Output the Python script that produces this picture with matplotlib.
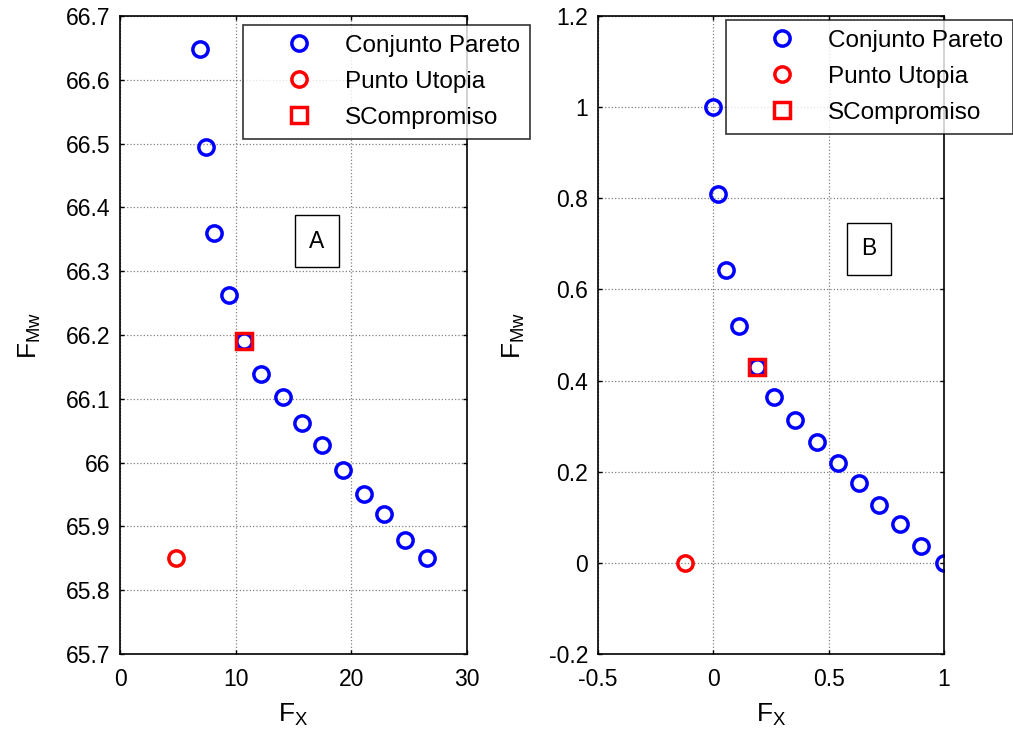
import numpy as np
import matplotlib
matplotlib.use("Agg")
import matplotlib.pyplot as plt
from matplotlib.ticker import FormatStrFormatter

plt.rcParams['font.family'] = ['Liberation Sans', 'DejaVu Sans']
plt.rcParams['axes.unicode_minus'] = False
plt.rcParams['mathtext.default'] = 'regular'

# panel A data
pareto_a_x = [6.9, 7.45, 8.15, 9.4, 10.7, 12.2, 14.05, 15.7, 17.5, 19.25, 21.1, 22.8, 24.6, 26.5]
pareto_a_y = [66.648, 66.495, 66.36, 66.263, 66.19, 66.139, 66.103, 66.062, 66.028, 65.989, 65.951, 65.919, 65.878, 65.851]
utopia_a = (4.85, 65.851)
comp_a = (10.7, 66.19)

# panel B data
pareto_b_x = [0.0, 0.02, 0.055, 0.11, 0.19, 0.265, 0.355, 0.45, 0.54, 0.63, 0.72, 0.81, 0.9, 1.0]
pareto_b_y = [1.0, 0.81, 0.642, 0.519, 0.43, 0.364, 0.314, 0.266, 0.22, 0.176, 0.127, 0.086, 0.037, 0.0]
utopia_b = (-0.125, 0.0)
comp_b = (0.19, 0.43)

labels = ['Conjunto Pareto', 'Punto Utopia', 'SCompromiso']

W, H = 1013, 734
fig = plt.figure(figsize=(W / 100, H / 100), dpi=100)
ax1 = fig.add_axes([120 / W, 80 / H, 347 / W, 638 / H])
ax2 = fig.add_axes([598 / W, 80 / H, 346 / W, 638 / H])


def draw(ax, px, py, ut, cp, leg_xy, tag, tag_xy):
    ax.plot(px, py, 'o', ls='none', mfc='none', mec='#0000ff', ms=11, mew=2.5, label=labels[0])
    ax.plot([ut[0]], [ut[1]], 'o', ls='none', mfc='none', mec='#ff0000', ms=11, mew=2.5, label=labels[1])
    ax.plot([cp[0]], [cp[1]], 's', ls='none', mfc='none', mec='#ff0000', ms=11, mew=2.5, label=labels[2])
    ax.grid(True, ls=':', color='#808080', lw=0.9)
    ax.tick_params(direction='in', top=True, right=True, labelsize=16.5, length=3, width=1, pad=7)
    ax.tick_params(axis='x', pad=10)
    for s in ax.spines.values():
        s.set_linewidth(1.2)
    ax.set_xlabel('F$_{X}$', fontsize=19, labelpad=8)
    ax.set_ylabel('F$_{Mw}$', fontsize=19, labelpad=16)
    ax.xaxis.set_major_formatter(FormatStrFormatter('%g'))
    ax.yaxis.set_major_formatter(FormatStrFormatter('%g'))
    leg = ax.legend(loc='upper left', bbox_to_anchor=leg_xy, bbox_transform=fig.transFigure,
                    fontsize=17.5, frameon=True, fancybox=False, edgecolor='black',
                    handletextpad=0.0, borderpad=0.4, labelspacing=0.58, handlelength=3.8,
                    borderaxespad=0)
    leg.get_frame().set_linewidth(1.2)
    leg.set_zorder(10)
    fig.text(tag_xy[0] / W, 1 - tag_xy[1] / H, tag, fontsize=16.5, ha='center', va='center',
             bbox=dict(boxstyle='square,pad=0.62', fc='white', ec='black', lw=1))


draw(ax1, pareto_a_x, pareto_a_y, utopia_a, comp_a, (243 / W, 1 - 25 / H), 'A', (317, 241))
ax1.set_xlim(0, 30)
ax1.set_ylim(65.7, 66.7)
ax1.set_xticks([0, 10, 20, 30])
ax1.set_yticks(np.round(np.arange(65.7, 66.71, 0.1), 1))

draw(ax2, pareto_b_x, pareto_b_y, utopia_b, comp_b, (726 / W, 1 - 20 / H), 'B', (869, 249))
ax2.set_xlim(-0.5, 1)
ax2.set_ylim(-0.2, 1.2)
ax2.set_xticks([-0.5, 0, 0.5, 1])
ax2.set_yticks(np.round(np.arange(-0.2, 1.21, 0.2), 1))

fig.savefig('out.png', dpi=100)
